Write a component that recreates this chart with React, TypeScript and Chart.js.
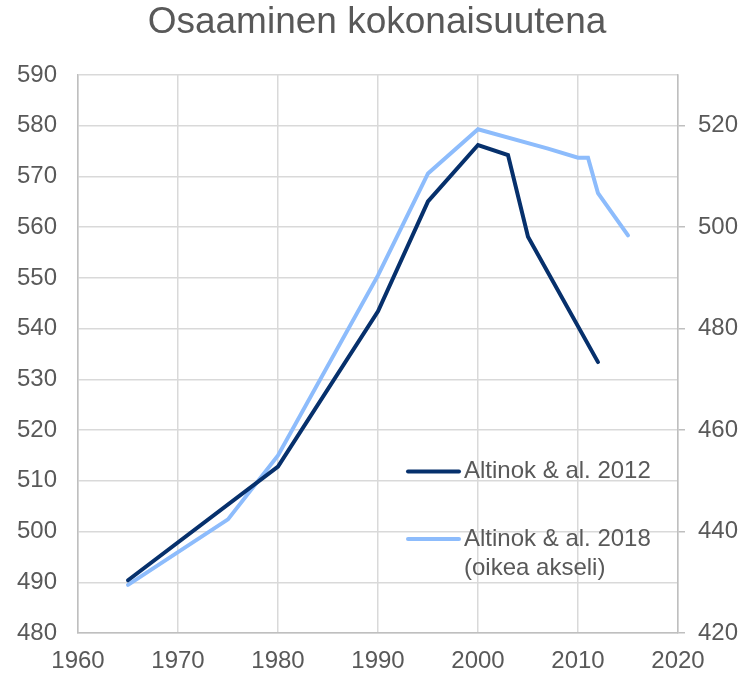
import React, { useEffect, useRef } from "react";
import { Chart, registerables } from "chart.js";

Chart.register(...registerables);

const TITLE = "Osaaminen kokonaisuutena";
const SERIES1_LABEL = "Altinok & al. 2012";
const SERIES2_LABEL = ["Altinok & al. 2018", "(oikea akseli)"];

const years2012 = [1965, 1980, 1990, 1995, 2000, 2003, 2005, 2012];
const values2012 = [490.4, 512.8, 543.4, 565.1, 576.2, 574.2, 558.1, 533.4];

const years2018 = [1965, 1975, 1980, 1990, 1995, 2000, 2007, 2010, 2011, 2012, 2015];
const values2018 = [429.5, 442.4, 455.0, 490.5, 510.6, 519.3, 515.5, 513.7, 513.7, 506.7, 498.4];

const DARK = "#06306c";
const LIGHT = "#8dbcfc";
const TEXT = "#595959";
const FONT = "'Liberation Sans', Arial, sans-serif";
const TICK_SIZE = 24;
const LINE_W = 4;

const titlePlugin = {
  id: "customTitle",
  afterDraw(chart: any) {
    const ctx = chart.ctx;
    ctx.save();
    ctx.fillStyle = TEXT;
    ctx.font = `37px ${FONT}`;
    ctx.textAlign = "center";
    ctx.textBaseline = "alphabetic";
    ctx.fillText(TITLE, 377, 33);
    ctx.restore();
  },
};

const legendPlugin = {
  id: "customLegend",
  afterDraw(chart: any) {
    const ctx = chart.ctx;
    ctx.save();
    ctx.lineWidth = LINE_W;
    ctx.lineCap = "round";
    ctx.font = `${TICK_SIZE}px ${FONT}`;
    ctx.fillStyle = TEXT;
    ctx.textAlign = "left";
    ctx.textBaseline = "middle";
    // item 1
    ctx.strokeStyle = DARK;
    ctx.beginPath();
    ctx.moveTo(408, 471.5);
    ctx.lineTo(459, 471.5);
    ctx.stroke();
    ctx.fillText(SERIES1_LABEL, 464, 471);
    // item 2
    ctx.strokeStyle = LIGHT;
    ctx.beginPath();
    ctx.moveTo(408, 539);
    ctx.lineTo(459, 539);
    ctx.stroke();
    ctx.fillText(SERIES2_LABEL[0], 464, 539);
    ctx.fillText(SERIES2_LABEL[1], 464, 568);
    ctx.restore();
  },
};

export default function App() {
  const ref = useRef<HTMLCanvasElement>(null);

  useEffect(() => {
    if (!ref.current) return;
    const chart = new Chart(ref.current, {
      type: "line",
      data: {
        datasets: [
          {
            label: SERIES1_LABEL,
            data: years2012.map((x, i) => ({ x, y: values2012[i] })),
            borderColor: DARK,
            backgroundColor: DARK,
            borderWidth: LINE_W,
            pointRadius: 0,
            tension: 0,
            borderCapStyle: "round",
            yAxisID: "y",
          },
          {
            label: SERIES2_LABEL.join(" "),
            data: years2018.map((x, i) => ({ x, y: values2018[i] })),
            borderColor: LIGHT,
            backgroundColor: LIGHT,
            borderWidth: LINE_W,
            pointRadius: 0,
            tension: 0,
            borderCapStyle: "round",
            yAxisID: "y2",
          },
        ],
      },
      options: {
        responsive: false,
        animation: false,
        layout: { padding: { top: 75, left: 0, right: 0, bottom: 0 } },
        plugins: {
          legend: { display: false },
          title: { display: false },
          tooltip: { enabled: false },
        },
        scales: {
          x: {
            type: "linear",
            min: 1960,
            max: 2020,
            ticks: {
              stepSize: 10,
              color: TEXT,
              font: { size: TICK_SIZE, family: FONT },
              padding: 14,
              maxRotation: 0,
              callback: (v: any) => String(v),
            },
            grid: { color: "#d9d9d9", lineWidth: 1.5, drawTicks: false },
            border: { color: "#bfbfbf", width: 1.5 },
            afterFit: (s: any) => {
              s.height = 40;
            },
          },
          y: {
            position: "left",
            min: 480,
            max: 590,
            ticks: {
              stepSize: 10,
              color: TEXT,
              font: { size: TICK_SIZE, family: FONT },
              padding: 21,
            },
            grid: { color: "#d9d9d9", lineWidth: 1.5, drawTicks: false },
            border: { color: "#bfbfbf", width: 1.5 },
            afterFit: (s: any) => {
              s.width = 78;
            },
          },
          y2: {
            position: "right",
            min: 420,
            max: 530,
            ticks: {
              stepSize: 20,
              includeBounds: false,
              color: TEXT,
              font: { size: TICK_SIZE, family: FONT },
              padding: 13,
            },
            grid: {
              drawOnChartArea: false,
              color: "#bfbfbf",
              lineWidth: 1.5,
              tickLength: 7,
            },
            border: { color: "#bfbfbf", width: 1.5 },
            afterFit: (s: any) => {
              s.width = 69;
            },
          },
        },
      },
      plugins: [titlePlugin, legendPlugin],
    });
    return () => chart.destroy();
  }, []);

  return (
    <div style={{ position: "absolute", left: 0, top: 0, width: 747, height: 673, background: "#fff" }}>
      <canvas ref={ref} width={747} height={673} style={{ display: "block" }} />
    </div>
  );
}
